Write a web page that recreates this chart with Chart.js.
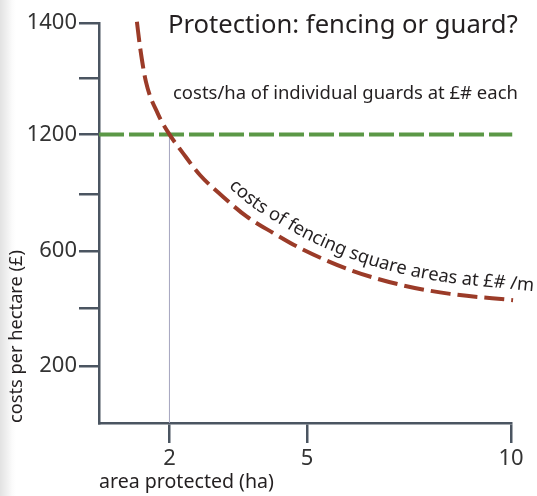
<!DOCTYPE html>
<html><head><meta charset="utf-8">
<script src="https://cdn.jsdelivr.net/npm/chart.js@4.4.0/dist/chart.umd.min.js"></script>
<style>
html,body{margin:0;padding:0;width:537px;height:496px;overflow:hidden;
background:linear-gradient(to right,#e2e2e2 0px,#f0f0f0 7px,#fbfbfb 12px,#ffffff 16px);}
canvas{display:block;}
</style></head><body>
<canvas id="c" width="537" height="496"></canvas>
<script>
// ---- texts ----
const chartTitle = 'Protection: fencing or guard?';
const guardLabel = 'costs/ha of individual guards at £# each';
const fenceLabel = 'costs of fencing square areas at £# /m';
const xTitle = 'area protected (ha)';
const yTitle = 'costs per hectare (£)';

// ---- x axis: positions along the drawn axis (0 = y axis, 10 = right end) ----
const xTickPositions = [1.71, 5.05, 10];
const xTickLabels = ['2', '5', '10'];

// ---- y axis: steps along the drawn axis, only some labelled ----
const yTickPositions = [1, 2, 3.01, 4, 5.05, 6.03, 7];
const yTickLabels = ['200', '', '600', '', '1200', '', '1400'];

// ---- fencing cost curve (axis positions) ----
const fenceX = [0.92, 1.00, 1.14, 1.43, 1.71, 2.02, 2.45, 3.01, 3.59, 4.22, 4.88, 6.09, 7.31, 8.52, 10.05];
const fenceY = [7.02, 6.56, 5.97, 5.41, 5.05, 4.74, 4.34, 3.96, 3.61, 3.33, 3.06, 2.68, 2.42, 2.26, 2.15];

// ---- guard cost line ----
const guardX = [0, 10.03];
const guardY = [5.05, 5.05];

// ---- drop line at 2 ha ----
const markX = [1.71, 1.71];
const markY = [0, 5.05];

const AXIS = '#4b5561';
const TXT = '#231f20';
const RED = '#9b3b28';
const GREEN = '#5b9846';
const FONT = 'Noto Sans';

const toPts = (xs, ys) => xs.map((x, i) => ({x, y: ys[i]}));

const measureCtx = document.createElement('canvas').getContext('2d');
function fitSize(ctx, text, targetW) {
  ctx.font = `100px "${FONT}"`;
  return 100 * targetW / ctx.measureText(text).width;
}
const xTitleSize = fitSize(measureCtx, xTitle, 175);
const yTitleSize = fitSize(measureCtx, yTitle, 173);

function drawCurvedText(chart) {
  const ctx = chart.ctx;
  const pts = chart.getDatasetMeta(0).data;
  const poly = [];
  for (let i = 0; i < pts.length - 1; i++) {
    const a = pts[i], b = pts[i + 1];
    const c1x = a.cp2x, c1y = a.cp2y, c2x = b.cp1x, c2y = b.cp1y;
    for (let k = (i === 0 ? 0 : 1); k <= 40; k++) {
      const t = k / 40, u = 1 - t;
      poly.push({
        x: u*u*u*a.x + 3*u*u*t*c1x + 3*u*t*t*c2x + t*t*t*b.x,
        y: u*u*u*a.y + 3*u*u*t*c1y + 3*u*t*t*c2y + t*t*t*b.y
      });
    }
  }
  const off = 11;
  const op = poly.map((p, i) => {
    const a = poly[Math.max(0, i - 1)], b = poly[Math.min(poly.length - 1, i + 1)];
    let dx = b.x - a.x, dy = b.y - a.y; const L = Math.hypot(dx, dy) || 1;
    dx /= L; dy /= L;
    return {x: p.x + dy * off, y: p.y - dx * off};
  });
  const s = [0];
  for (let i = 1; i < op.length; i++) s.push(s[i - 1] + Math.hypot(op[i].x - op[i - 1].x, op[i].y - op[i - 1].y));
  const n = op.length, total = s[n - 1];
  const lastAng = Math.atan2(op[n - 1].y - op[n - 2].y, op[n - 1].x - op[n - 2].x);
  function at(d) {
    if (d >= total) {
      const e = d - total;
      return {x: op[n - 1].x + Math.cos(lastAng) * e, y: op[n - 1].y + Math.sin(lastAng) * e, ang: lastAng};
    }
    let i = 1; while (i < n - 1 && s[i] < d) i++;
    const a = op[i - 1], b = op[i];
    const t = (d - s[i - 1]) / ((s[i] - s[i - 1]) || 1);
    return {x: a.x + (b.x - a.x) * t, y: a.y + (b.y - a.y) * t, ang: Math.atan2(b.y - a.y, b.x - a.x)};
  }
  const xStart = 228, xEnd = 533;
  let i0 = 0; while (i0 < n - 1 && op[i0].x < xStart) i0++;
  const sStart = s[i0];
  const sEnd = total + (xEnd - op[n - 1].x) / Math.cos(lastAng);
  const size = fitSize(ctx, fenceLabel, sEnd - sStart);
  ctx.font = `${size}px "${FONT}"`;
  ctx.fillStyle = TXT;
  ctx.textBaseline = 'alphabetic';
  ctx.textAlign = 'left';
  let cur = sStart;
  for (const ch of fenceLabel) {
    const w = ctx.measureText(ch).width;
    const p = at(cur + w / 2);
    ctx.save();
    ctx.translate(p.x, p.y);
    ctx.rotate(p.ang);
    ctx.fillText(ch, -w / 2, 0);
    ctx.restore();
    cur += w;
  }
}

const textPlugin = {
  id: 'texts',
  afterDraw(chart) {
    const ctx = chart.ctx;
    ctx.save();
    ctx.fillStyle = TXT;
    ctx.textAlign = 'left';
    ctx.textBaseline = 'alphabetic';
    let sz = fitSize(ctx, chartTitle, 350);
    ctx.font = `${sz}px "${FONT}"`;
    ctx.fillText(chartTitle, 168, 33);
    sz = fitSize(ctx, guardLabel, 345);
    ctx.font = `${sz}px "${FONT}"`;
    ctx.fillText(guardLabel, 173, 99);
    drawCurvedText(chart);
    ctx.restore();
  }
};

new Chart(document.getElementById('c'), {
  type: 'line',
  data: {
    datasets: [
      {data: toPts(fenceX, fenceY), borderColor: RED, borderWidth: 4, borderDash: [20, 7],
       cubicInterpolationMode: 'monotone', pointRadius: 0, clip: false, borderCapStyle: 'butt'},
      {data: toPts(guardX, guardY), borderColor: GREEN, borderWidth: 4, borderDash: [25, 5],
       pointRadius: 0, clip: false, borderCapStyle: 'butt'},
      {data: toPts(markX, markY), borderColor: '#a4a4bf', borderWidth: 1, pointRadius: 0, clip: false}
    ]
  },
  options: {
    responsive: false,
    animation: false,
    devicePixelRatio: 1,
    layout: {padding: {top: 23, right: 26, left: 0, bottom: 0}},
    plugins: {legend: {display: false}, tooltip: {enabled: false}, title: {display: false}},
    scales: {
      x: {
        type: 'linear', min: 0, max: 10,
        afterBuildTicks: sc => { sc.ticks = xTickPositions.map(v => ({value: v})); },
        afterFit: sc => { sc.height = 73; },
        ticks: {callback: (v) => xTickLabels[xTickPositions.indexOf(v)], font: {family: FONT, size: 22},
                color: '#333', padding: 3, autoSkip: false, maxRotation: 0},
        grid: {drawOnChartArea: false, drawTicks: true, tickLength: 20, color: AXIS, lineWidth: 2.5},
        border: {display: true, color: AXIS, width: 2.5},
        title: {display: true, text: xTitle, align: 'start', color: TXT,
                font: {family: FONT, size: xTitleSize}, padding: {top: 0, bottom: 2}}
      },
      y: {
        type: 'linear', min: 0, max: 7,
        afterBuildTicks: sc => { sc.ticks = yTickPositions.map(v => ({value: v})); },
        afterFit: sc => { sc.width = 99; },
        ticks: {callback: (v) => yTickLabels[yTickPositions.indexOf(v)], font: {family: FONT, size: 22},
                color: '#333', padding: 2, autoSkip: false},
        grid: {drawOnChartArea: false, drawTicks: true, tickLength: 20, color: AXIS, lineWidth: 2.5},
        border: {display: true, color: AXIS, width: 2.5},
        title: {display: true, text: yTitle, align: 'start', color: TXT,
                font: {family: FONT, size: yTitleSize}, padding: {top: 6, bottom: 0}}
      }
    }
  },
  plugins: [textPlugin]
});
</script>
</body></html>
